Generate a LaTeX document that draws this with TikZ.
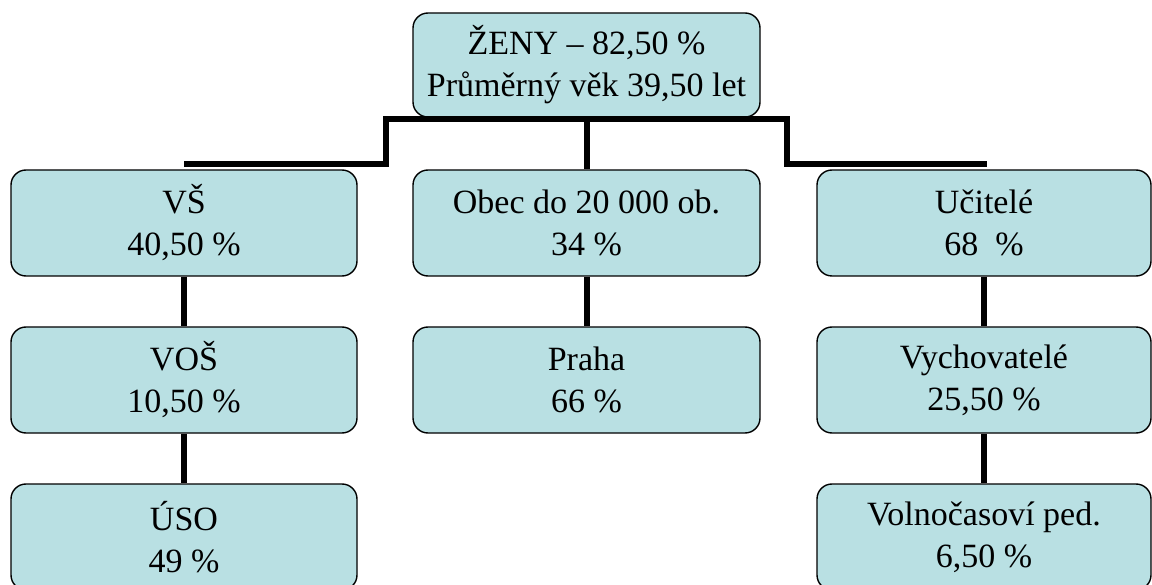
\documentclass[tikz,border=0pt]{standalone}
\usepackage{fontspec}
\setmainfont{Liberation Serif}
\definecolor{boxfill}{HTML}{B9E0E3}
\tikzset{
  orgbox/.style={draw=black, line width=1.4pt, fill=boxfill, rounded corners=15pt,
    align=center, inner sep=0pt, font=\fontsize{34}{42}\selectfont},
  conn/.style={draw=black, line width=6pt},
}
\begin{document}
\begin{tikzpicture}[x=1pt,y=-1pt]
\useasboundingbox (0,0) rectangle (1152,585);
\clip (0,0) rectangle (1152,585);
% top
\node[orgbox, minimum width=347pt, minimum height=104pt] (top) at (586.5,65) {ŽENY – 82,50 \%\\Průměrný věk 39,50 let};
% row 1
\node[orgbox, minimum width=346pt, minimum height=106pt] (vs) at (184,223) {VŠ\\40,50 \%};
\node[orgbox, minimum width=347pt, minimum height=106pt] (ob) at (586.5,223) {Obec do 20 000 ob.\\34 \%};
\node[orgbox, minimum width=334pt, minimum height=106pt] (uc) at (984,223) {Učitelé\\68~~\%};
% row 2
\node[orgbox, minimum width=346pt, minimum height=106pt] (vos) at (184,380) {VOŠ\\10,50 \%};
\node[orgbox, minimum width=347pt, minimum height=106pt] (pr) at (586.5,380) {Praha\\66 \%};
\node[orgbox, minimum width=334pt, minimum height=106pt] (vy) at (984,380) {Vychovatelé\\25,50 \%};
% row 3
\node[orgbox, minimum width=346pt, minimum height=106pt] (uso) at (184,537) {ÚSO\\49 \%};
\node[orgbox, minimum width=334pt, minimum height=106pt] (vo) at (984,537) {Volnočasoví ped.\\6,50 \%};
% junction coordinates
\coordinate (jl) at (386,119);
\coordinate (jr) at (787,119);
\coordinate (hl) at (184,164);
\coordinate (hr) at (987,164);
% connectors
\draw[conn] (hl) -- (386,164) -- (jl) -- (jr) -- (787,164) -- (hr);
\draw[conn] (top.south) -- (ob.north);
\draw[conn] (vs) -- (vos);
\draw[conn] (vos) -- (uso);
\draw[conn] (ob) -- (pr);
\draw[conn] (uc) -- (vy);
\draw[conn] (vy) -- (vo);
\end{tikzpicture}
\end{document}
